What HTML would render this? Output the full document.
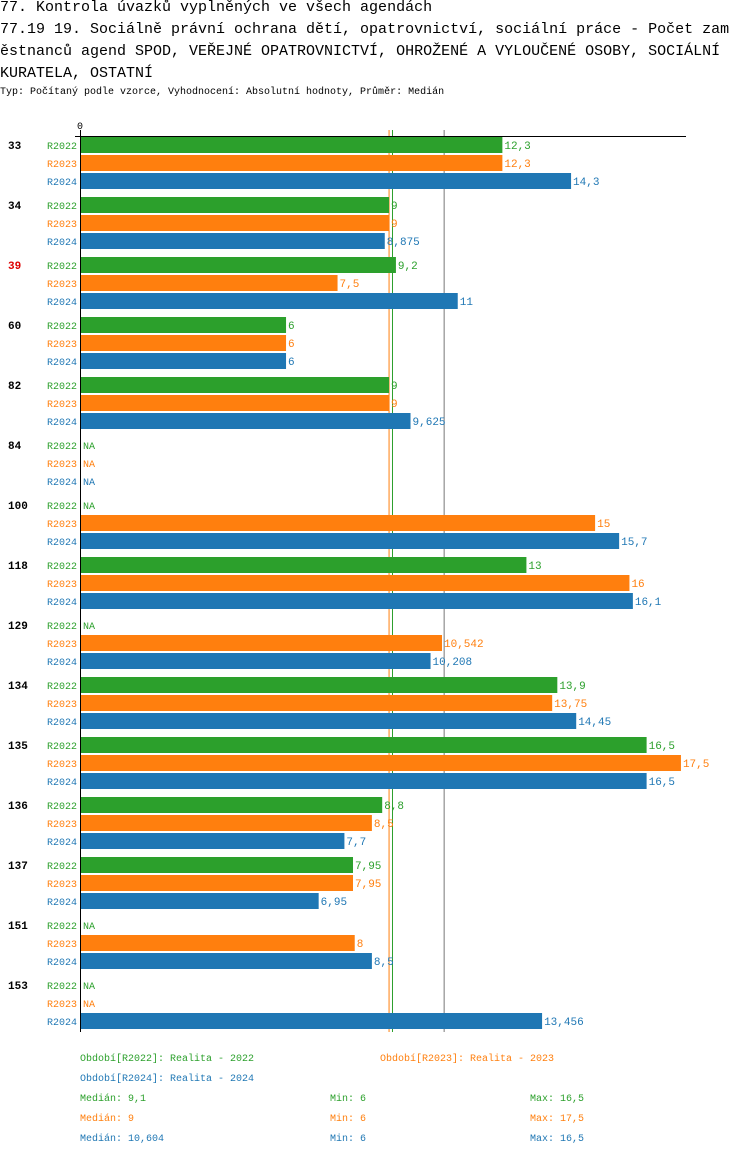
<!DOCTYPE html>
<html><head><meta charset="utf-8">
<style>
body{margin:0;background:#fff;width:750px;height:1156px;overflow:hidden;font-family:"Liberation Mono",monospace;}
.t{position:absolute;left:0;font-size:15px;white-space:nowrap;line-height:22px;color:#000}
.s{position:absolute;left:0;top:87px;font-size:10px;white-space:nowrap}
</style></head><body>
<div class="t" style="top:-3px">77. Kontrola úvazků vyplněných ve všech agendách</div>
<div class="t" style="top:19px">77.19 19. Sociálně právní ochrana dětí, opatrovnictví, sociální práce - Počet zam</div>
<div class="t" style="top:41px">ěstnanců agend SPOD, VEŘEJNÉ OPATROVNICTVÍ, OHROŽENÉ A VYLOUČENÉ OSOBY, SOCIÁLNÍ</div>
<div class="t" style="top:63px">KURATELA, OSTATNÍ</div>
<div class="s">Typ: Počítaný podle vzorce, Vyhodnocení: Absolutní hodnoty, Průměr: Medián</div>
<svg id="c" width="750" height="1156" style="position:absolute;left:0;top:0" font-family="Liberation Mono, monospace" font-size="10"></svg>
<script>
const categories=["33","34","39","60","82","84","100","118","129","134","135","136","137","151","153"];
const series=["R2022","R2023","R2024"];
const r2022=[12.3,9,9.2,6,9,null,null,13,null,13.9,16.5,8.8,7.95,null,null];
const r2023=[12.3,9,7.5,6,9,null,15,16,10.542,13.75,17.5,8.5,7.95,8,null];
const r2024=[14.3,8.875,11,6,9.625,null,15.7,16.1,10.208,14.45,16.5,7.7,6.95,8.5,13.456];
const medians=[9.1,9,10.604];
const mins=["6","6","6"], maxs=["16,5","17,5","16,5"], medLabels=["9,1","9","10,604"];
const colors=["#2ca02c","#ff7f0e","#1f77b4"];
const highlight="39";
const svg=document.getElementById('c');
const NS="http://www.w3.org/2000/svg";
const x=v=>80+v*34.34;
const gy=i=>137+i*60;
function el(t,a,txt){const e=document.createElementNS(NS,t);for(const k in a)e.setAttribute(k,a[k]);if(txt!==undefined)e.textContent=txt;svg.appendChild(e);return e;}
const fmt=v=>String(v).replace('.',',');
const data=[r2022,r2023,r2024];
[[1,'#ff7f0e'],[0,'#2ca02c'],[2,'#777']].forEach(([j,col])=>{
  const m=el('line',{x1:x(medians[j]),x2:x(medians[j]),y1:130,y2:1032,stroke:col,'stroke-width':1});
  
  
});
categories.forEach((c,i)=>{
  const g=el('text',{x:8,y:gy(i)+12,'font-weight':'bold','font-size':11,fill:c===highlight?'#d00':'#000'},c);
  
  
  series.forEach((s,j)=>{
    const y=gy(i)+j*18, v=data[j][i];
    const l=el('text',{x:47,y:y+12,fill:colors[j]},s);
    
    
    if(v==null){
      const n=el('text',{x:83,y:y+12,fill:colors[j]},'NA');
      
      
    }else{
      const r=el('rect',{x:80,y:y,width:x(v)-80,height:16,fill:colors[j]});
      
      
      const t=el('text',{x:x(v)+2,y:y+12,fill:colors[j],'font-size':11},fmt(v));
      
      
    }
  });
});
const ax=el('line',{x1:75,x2:686,y1:136.5,y2:136.5,stroke:'#000'});


const ay=el('line',{x1:80.5,x2:80.5,y1:130,y2:1032,stroke:'#000'});


const z=el('text',{x:77,y:129},'0');


const legendTexts=["Období[R2022]: Realita - 2022","Období[R2023]: Realita - 2023","Období[R2024]: Realita - 2024"];
[[80,1061],[380,1061],[80,1081]].forEach(([lx,ly],j)=>{
  const t=el('text',{x:lx,y:ly,fill:colors[j]},legendTexts[j]);
  
  
});
series.forEach((s,j)=>{
  const y=1101+j*20;
  const a=el('text',{x:80,y:y,fill:colors[j]},'Medián: '+medLabels[j]);
  
  
  const b=el('text',{x:330,y:y,fill:colors[j]},'Min: '+mins[j]);
  
  
  const d=el('text',{x:530,y:y,fill:colors[j]},'Max: '+maxs[j]);
  
  
});
</script>
</body></html>
